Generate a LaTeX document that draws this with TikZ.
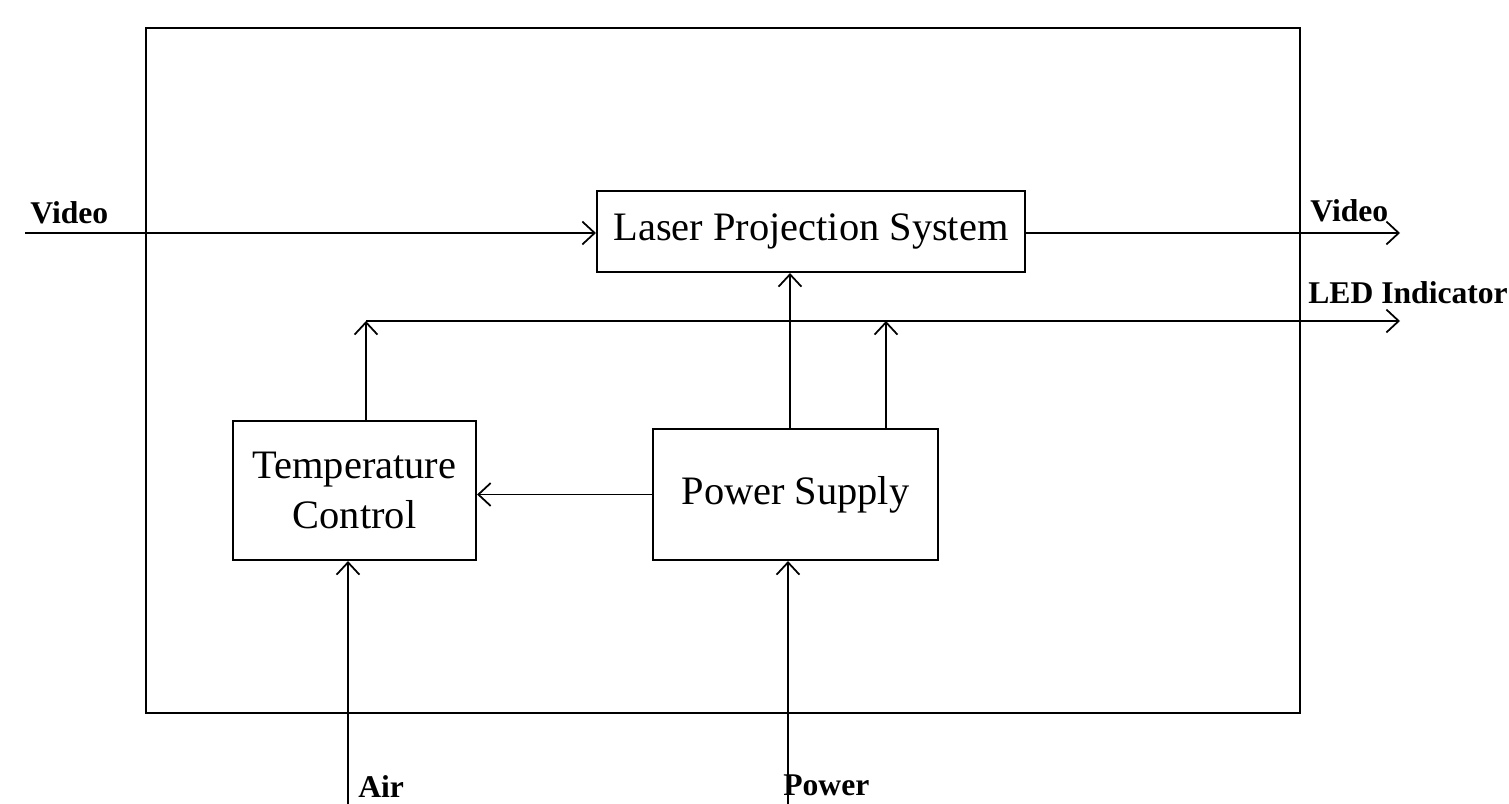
\documentclass[tikz,border=0pt]{standalone}
\usepackage{fontspec}
\setmainfont{Liberation Serif}
\usetikzlibrary{arrows.meta}
\begin{document}
\begin{tikzpicture}[x=0.02cm,y=-0.02cm,
  blk/.style={draw,line width=1.2pt,inner sep=0pt,align=center,font=\fontsize{23}{28.5}\selectfont},
  arr/.style={line width=1.1pt,-{Straight Barb[length=7pt,width=13pt,line width=1pt]}},
  ln/.style={line width=1.1pt},
  lbl/.style={inner sep=0pt,font=\fontsize{18}{21}\selectfont\bfseries}]
\useasboundingbox (0,0) rectangle (1509,804);
\node[draw,line width=1.4pt,minimum width=1154*0.02cm,minimum height=685*0.02cm,inner sep=0pt] (outer) at (723,370.5) {};
\node[blk,minimum width=428*0.02cm,minimum height=81*0.02cm] (laser) at (811,231.5) {Laser Projection System};
\node[blk,minimum width=243*0.02cm,minimum height=139*0.02cm] (temp) at (354.5,490.5) {Temperature\\Control};
\node[blk,minimum width=285*0.02cm,minimum height=131*0.02cm] (ps) at (795.5,494.5) {Power Supply};
\coordinate (vin) at (25,233);
\coordinate (vout) at (1400,233);
\coordinate (j1) at (366,321);
\coordinate (ledend) at (1400,321);
\coordinate (c790) at (790,0);
\coordinate (c886) at (886,0);
\coordinate (air) at (348,804);
\coordinate (pwr) at (788,804);
\draw[arr] (vin) -- (vin -| laser.west);
\draw[arr] (laser.east |- vout) -- (vout);
\draw[arr] (j1 |- temp.north) -- (j1);
\draw[arr] (j1) -- (ledend);
\draw[arr] (ps.north -| c790) -- (laser.south -| c790);
\draw[arr] (ps.north -| c886) -- (c886 |- j1);
\draw[arr] (ps.west) -- (temp.east |- ps.west);
\draw[arr] (air) -- (air |- temp.south);
\draw[arr] (pwr) -- (pwr |- ps.south);
\node[lbl,anchor=base west] (lvin) at (30,224) {Video};
\node[lbl,anchor=base west] (lvout) at (1310,222) {Video};
\node[lbl,anchor=base west] (lled) at (1308,304) {LED Indicator};
\node[lbl,anchor=base west] (lair) at (358,797) {Air};
\node[lbl,anchor=base west] (lpwr) at (783,795) {Power};
\end{tikzpicture}
\end{document}
